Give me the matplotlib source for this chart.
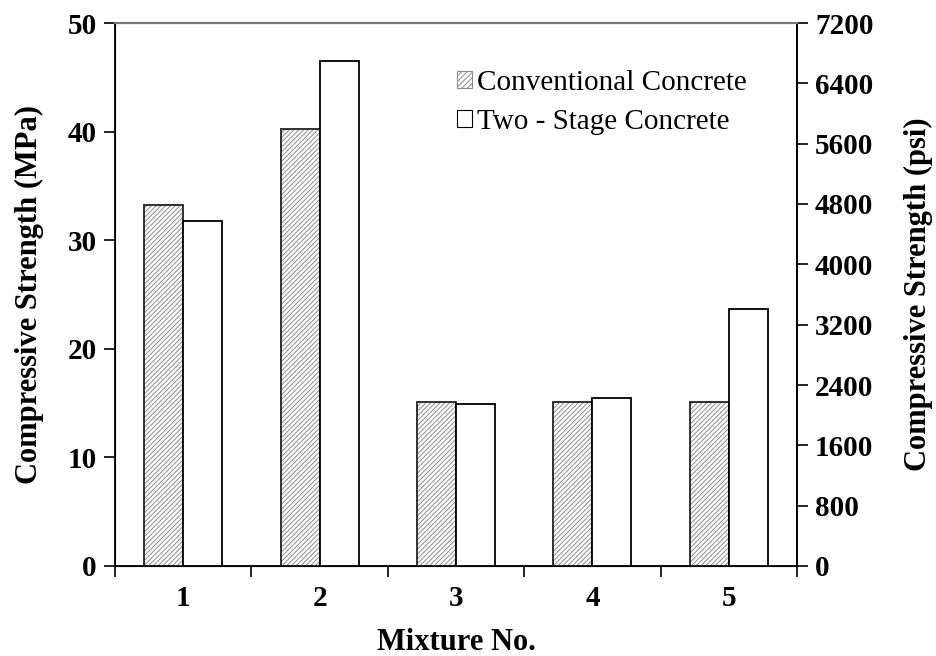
import matplotlib
matplotlib.use("Agg")
import matplotlib.pyplot as plt
import numpy as np
from matplotlib.patches import Patch

plt.rcParams['font.family'] = ['Liberation Serif', 'DejaVu Serif']
plt.rcParams['hatch.linewidth'] = 0.7

mixtures = ["1", "2", "3", "4", "5"]
conventional = [33.2, 40.2, 15.1, 15.1, 15.1]
two_stage = [31.8, 46.5, 14.9, 15.5, 23.7]
left_ticks = [0, 10, 20, 30, 40, 50]
right_ticks = [0, 800, 1600, 2400, 3200, 4000, 4800, 5600, 6400, 7200]

fig = plt.figure(figsize=(9.37, 6.56), dpi=100)
ax = fig.add_axes([115/937, 1-566/656, (797-115)/937, (566-23)/656])
x = np.arange(1, len(mixtures)+1)
w = 0.286

ax.bar(x - w/2, conventional, w, color='white', edgecolor='#8c8c8c', hatch='///////', linewidth=0, zorder=2)
ax.bar(x - w/2, conventional, w, fill=False, edgecolor='#222222', linewidth=1.3, zorder=3)
ax.bar(x + w/2, two_stage, w, color='white', edgecolor='black', linewidth=1.3, zorder=3)

ax.set_xlim(0.5, 5.5)
ax.set_ylim(0, 50)
ax.set_yticks(left_ticks)
ax.set_xticks(x)
ax.set_xticklabels(mixtures)
ax.set_xticks(np.arange(0.5, 5.6, 1), minor=True)
ax.tick_params(axis='x', which='major', length=0, pad=14, labelsize=21)
ax.tick_params(axis='x', which='minor', length=8, width=1.2, direction='out')
ax.tick_params(axis='y', length=8, width=1.2, direction='out', labelsize=21, pad=5)
for lab in ax.get_xticklabels() + ax.get_yticklabels():
    lab.set_fontweight('bold')
ax.set_xlabel('Mixture No.', fontsize=22, fontweight='bold', labelpad=11)
ax.set_ylabel('Compressive Strength (MPa)', fontsize=22, fontweight='bold', labelpad=17)
ax.spines['top'].set_color('#777777')
ax.spines['top'].set_linewidth(1.5)
for s in ['left', 'bottom', 'right']:
    ax.spines[s].set_linewidth(1.3)
    ax.spines[s].set_color('black')

ax2 = ax.twinx()
ax2.set_ylim(0, 7200)
ax2.set_yticks(right_ticks)
ax2.tick_params(axis='y', length=8, width=1.2, direction='out', labelsize=21, pad=5)
for lab in ax2.get_yticklabels():
    lab.set_fontweight('bold')
ax2.set_ylabel('Compressive Strength (psi)', fontsize=22, fontweight='bold', labelpad=22)
ax2.spines['top'].set_color('#777777')
ax2.spines['top'].set_linewidth(1.5)
ax2.spines['right'].set_linewidth(1.3)

handles = [Patch(facecolor='white', edgecolor='#8c8c8c', hatch='//////', linewidth=0.8),
           Patch(facecolor='white', edgecolor='black', linewidth=0.8)]
leg = ax.legend(handles, ['Conventional Concrete', 'Two - Stage Concrete'],
                loc='upper left', bbox_to_anchor=(0.463, 0.962), frameon=False,
                fontsize=21, handlelength=0.5, handleheight=0.5, handletextpad=0.2,
                labelspacing=0.45)

fig.savefig('out.png', dpi=100)
